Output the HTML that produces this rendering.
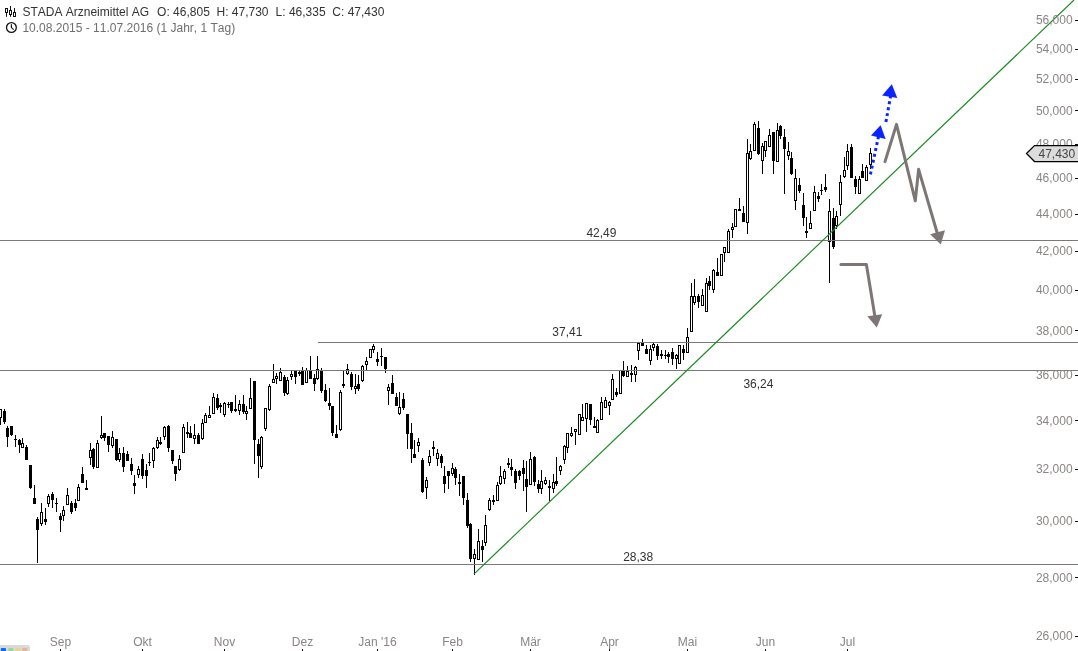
<!DOCTYPE html>
<html lang="de"><head><meta charset="utf-8"><title>STADA Arzneimittel AG</title>
<style>
html,body{margin:0;padding:0;background:#fff;}
body{width:1078px;height:651px;overflow:hidden;position:relative;font-family:"Liberation Sans",Arial,sans-serif;}
svg{position:absolute;left:0;top:0;}
text{font-family:"Liberation Sans",Arial,sans-serif;font-size:12px;font-kerning:none;font-feature-settings:"kern" 0;}
.ax{fill:#8a8583;}
.lb{fill:#333;}
.t1{fill:#333;}
.t2{fill:#6e6e6e;}
</style></head><body>
<svg width="1078" height="651" viewBox="0 0 1078 651">
<rect width="1078" height="651" fill="#fff"/>
<g shape-rendering="crispEdges"><path d="M0 409h1v16h-1zM-1 409h3v9h-3zM4 409h1v15h-1zM3 411h3v11h-3zM7 426h1v21h-1zM6 428h3v9h-3zM11 426h1v10h-1zM10 426h3v9h-3zM15 435h1v12h-1zM14 439h3v1h-3zM19 439h1v14h-1zM18 440h3v5h-3zM22 438h1v10h-1zM21 443h3v5h-3zM26 445h1v15h-1zM25 447h3v13h-3zM30 465h1v24h-1zM29 465h3v23h-3zM34 485h1v19h-1zM33 498h3v6h-3zM37 517h1v46h-1zM36 519h3v11h-3zM41 503h1v23h-1zM40 512h3v12h-3zM45 508h1v17h-1zM44 519h3v3h-3zM48 494h1v13h-1zM47 496h3v8h-3zM52 492h1v16h-1zM51 494h3v6h-3zM56 498h1v14h-1zM55 503h3v1h-3zM60 513h1v19h-1zM59 516h3v4h-3zM63 506h1v15h-1zM62 510h3v6h-3zM67 488h1v17h-1zM66 495h3v10h-3zM71 501h1v13h-1zM70 503h3v9h-3zM75 499h1v12h-1zM74 503h3v5h-3zM78 484h1v17h-1zM77 487h3v14h-3zM82 467h1v16h-1zM81 474h3v9h-3zM86 480h1v10h-1zM85 488h3v2h-3zM90 443h1v22h-1zM89 450h3v8h-3zM93 448h1v21h-1zM92 449h3v18h-3zM97 440h1v28h-1zM96 443h3v25h-3zM101 416h1v23h-1zM100 435h3v3h-3zM104 433h1v8h-1zM103 433h3v5h-3zM108 436h1v16h-1zM107 436h3v9h-3zM112 431h1v17h-1zM111 437h3v9h-3zM116 439h1v22h-1zM115 439h3v21h-3zM119 448h1v14h-1zM118 453h3v7h-3zM123 447h1v25h-1zM122 453h3v14h-3zM127 451h1v10h-1zM126 454h3v7h-3zM131 458h1v17h-1zM130 464h3v7h-3zM134 475h1v19h-1zM133 483h3v3h-3zM138 466h1v12h-1zM137 469h3v6h-3zM142 454h1v25h-1zM141 459h3v17h-3zM146 464h1v24h-1zM145 470h3v6h-3zM149 453h1v13h-1zM148 462h3v1h-3zM153 447h1v21h-1zM152 448h3v13h-3zM157 437h1v12h-1zM156 440h3v8h-3zM160 437h1v8h-1zM159 442h3v2h-3zM164 426h1v14h-1zM163 427h3v10h-3zM168 425h1v27h-1zM167 426h3v22h-3zM172 450h1v14h-1zM171 450h3v11h-3zM175 466h1v15h-1zM174 466h3v8h-3zM179 455h1v16h-1zM178 459h3v11h-3zM183 424h1v29h-1zM182 427h3v26h-3zM187 422h1v16h-1zM186 432h3v2h-3zM190 426h1v12h-1zM189 433h3v5h-3zM194 424h1v20h-1zM193 435h3v4h-3zM198 433h1v11h-1zM197 435h3v9h-3zM202 419h1v21h-1zM201 423h3v16h-3zM205 413h1v10h-1zM204 415h3v8h-3zM209 406h1v12h-1zM208 415h3v3h-3zM213 393h1v21h-1zM212 397h3v17h-3zM217 394h1v16h-1zM216 398h3v10h-3zM220 403h1v10h-1zM219 405h3v2h-3zM224 402h1v15h-1zM223 403h3v12h-3zM228 402h1v6h-1zM227 404h3v1h-3zM231 402h1v11h-1zM230 402h3v9h-3zM235 395h1v17h-1zM234 409h3v2h-3zM239 400h1v15h-1zM238 404h3v7h-3zM243 395h1v19h-1zM242 404h3v8h-3zM246 406h1v14h-1zM245 411h3v3h-3zM250 378h1v31h-1zM249 398h3v11h-3zM254 381h1v83h-1zM253 381h3v59h-3zM258 439h1v39h-1zM257 444h3v12h-3zM261 436h1v33h-1zM260 437h3v30h-3zM265 408h1v23h-1zM264 408h3v21h-3zM269 384h1v27h-1zM268 386h3v24h-3zM273 364h1v19h-1zM272 379h3v4h-3zM276 373h1v11h-1zM275 376h3v3h-3zM280 368h1v13h-1zM279 372h3v9h-3zM284 375h1v21h-1zM283 377h3v16h-3zM287 377h1v18h-1zM286 380h3v14h-3zM291 371h1v9h-1zM290 374h3v3h-3zM295 370h1v14h-1zM294 371h3v6h-3zM299 371h1v5h-1zM298 372h3v2h-3zM302 367h1v18h-1zM301 371h3v14h-3zM306 368h1v15h-1zM305 370h3v13h-3zM310 356h1v23h-1zM309 370h3v9h-3zM314 374h1v17h-1zM313 378h3v6h-3zM317 356h1v24h-1zM316 369h3v10h-3zM321 368h1v25h-1zM320 370h3v21h-3zM325 384h1v18h-1zM324 390h3v11h-3zM329 388h1v22h-1zM328 403h3v3h-3zM332 406h1v30h-1zM331 406h3v27h-3zM336 425h1v13h-1zM335 434h3v4h-3zM340 390h1v41h-1zM339 392h3v38h-3zM343 371h1v17h-1zM342 384h3v2h-3zM347 364h1v11h-1zM346 369h3v5h-3zM351 372h1v18h-1zM350 374h3v13h-3zM355 374h1v20h-1zM354 386h3v3h-3zM358 375h1v16h-1zM357 384h3v5h-3zM362 365h1v17h-1zM361 366h3v15h-3zM366 357h1v13h-1zM365 361h3v4h-3zM370 349h1v9h-1zM369 349h3v9h-3zM373 344h1v9h-1zM372 346h3v4h-3zM377 352h1v14h-1zM376 359h3v3h-3zM381 348h1v18h-1zM380 356h3v1h-3zM385 357h1v16h-1zM384 357h3v12h-3zM388 384h1v21h-1zM387 387h3v4h-3zM392 375h1v19h-1zM391 383h3v11h-3zM396 393h1v13h-1zM395 397h3v9h-3zM399 392h1v23h-1zM398 407h3v7h-3zM403 393h1v17h-1zM402 399h3v9h-3zM407 414h1v35h-1zM406 414h3v20h-3zM411 423h1v40h-1zM410 433h3v16h-3zM414 440h1v18h-1zM413 454h3v4h-3zM418 438h1v14h-1zM417 442h3v4h-3zM422 458h1v35h-1zM421 460h3v32h-3zM426 477h1v22h-1zM425 480h3v8h-3zM429 450h1v16h-1zM428 456h3v7h-3zM433 441h1v15h-1zM432 447h3v2h-3zM437 449h1v17h-1zM436 453h3v6h-3zM441 454h1v14h-1zM440 456h3v7h-3zM444 466h1v27h-1zM443 476h3v8h-3zM448 471h1v18h-1zM447 471h3v5h-3zM452 463h1v13h-1zM451 468h3v6h-3zM455 467h1v18h-1zM454 469h3v9h-3zM459 474h1v22h-1zM458 482h3v2h-3zM463 476h1v29h-1zM462 476h3v22h-3zM467 493h1v35h-1zM466 500h3v26h-3zM470 523h1v39h-1zM469 524h3v35h-3zM474 549h1v26h-1zM473 554h3v5h-3zM478 529h1v31h-1zM477 541h3v19h-3zM482 540h1v22h-1zM481 546h3v4h-3zM485 515h1v31h-1zM484 525h3v18h-3zM489 498h1v13h-1zM488 500h3v10h-3zM493 495h1v10h-1zM492 500h3v2h-3zM497 482h1v19h-1zM496 485h3v16h-3zM500 466h1v19h-1zM499 476h3v8h-3zM504 469h1v15h-1zM503 471h3v8h-3zM508 458h1v10h-1zM507 463h3v2h-3zM511 459h1v17h-1zM510 467h3v3h-3zM515 469h1v20h-1zM514 471h3v12h-3zM519 470h1v10h-1zM518 471h3v5h-3zM523 460h1v31h-1zM522 468h3v6h-3zM526 461h1v51h-1zM525 479h3v8h-3zM530 452h1v33h-1zM529 459h3v26h-3zM534 456h1v30h-1zM533 457h3v25h-3zM538 480h1v13h-1zM537 484h3v5h-3zM541 470h1v24h-1zM540 481h3v8h-3zM545 477h1v8h-1zM544 480h3v4h-3zM549 480h1v21h-1zM548 486h3v2h-3zM553 474h1v19h-1zM552 482h3v7h-3zM556 457h1v29h-1zM555 481h3v3h-3zM560 465h1v10h-1zM559 466h3v5h-3zM564 445h1v19h-1zM563 446h3v14h-3zM567 433h1v20h-1zM566 433h3v15h-3zM571 427h1v10h-1zM570 433h3v3h-3zM575 429h1v16h-1zM574 429h3v3h-3zM579 414h1v21h-1zM578 414h3v21h-3zM582 404h1v17h-1zM581 417h3v4h-3zM586 403h1v29h-1zM585 403h3v16h-3zM590 404h1v21h-1zM589 404h3v16h-3zM594 417h1v11h-1zM593 426h3v2h-3zM597 419h1v14h-1zM596 420h3v13h-3zM601 397h1v23h-1zM600 402h3v18h-3zM605 397h1v11h-1zM604 400h3v8h-3zM609 401h1v14h-1zM608 402h3v4h-3zM612 374h1v26h-1zM611 379h3v21h-3zM616 388h1v9h-1zM615 392h3v3h-3zM620 370h1v24h-1zM619 370h3v24h-3zM623 361h1v16h-1zM622 371h3v5h-3zM627 366h1v11h-1zM626 371h3v6h-3zM631 365h1v17h-1zM630 373h3v2h-3zM635 366h1v16h-1zM634 367h3v8h-3zM638 342h1v18h-1zM637 343h3v8h-3zM642 339h1v7h-1zM641 342h3v4h-3zM646 345h1v9h-1zM645 349h3v5h-3zM650 345h1v20h-1zM649 349h3v12h-3zM653 343h1v8h-1zM652 344h3v4h-3zM657 344h1v16h-1zM656 346h3v10h-3zM661 350h1v9h-1zM660 354h3v2h-3zM665 350h1v9h-1zM664 355h3v1h-3zM668 352h1v11h-1zM667 354h3v3h-3zM672 348h1v17h-1zM671 352h3v7h-3zM676 354h1v15h-1zM675 355h3v4h-3zM679 345h1v19h-1zM678 345h3v19h-3zM683 345h1v15h-1zM682 349h3v4h-3zM687 328h1v25h-1zM686 337h3v16h-3zM691 283h1v49h-1zM690 296h3v36h-3zM694 279h1v26h-1zM693 296h3v7h-3zM698 294h1v14h-1zM697 296h3v6h-3zM702 289h1v17h-1zM701 295h3v11h-3zM706 278h1v34h-1zM705 283h3v29h-3zM709 276h1v14h-1zM708 281h3v5h-3zM713 269h1v24h-1zM712 270h3v20h-3zM717 258h1v18h-1zM716 272h3v4h-3zM721 254h1v22h-1zM720 254h3v22h-3zM724 247h1v15h-1zM723 247h3v6h-3zM728 229h1v24h-1zM727 231h3v22h-3zM732 223h1v15h-1zM731 227h3v3h-3zM735 209h1v18h-1zM734 209h3v18h-3zM739 198h1v13h-1zM738 209h3v2h-3zM743 206h1v16h-1zM742 213h3v9h-3zM747 139h1v95h-1zM746 153h3v70h-3zM750 144h1v16h-1zM749 151h3v8h-3zM754 122h1v29h-1zM753 124h3v27h-3zM758 121h1v34h-1zM757 128h3v26h-3zM762 143h1v31h-1zM761 146h3v15h-3zM765 141h1v16h-1zM764 141h3v10h-3zM769 129h1v18h-1zM768 135h3v12h-3zM773 132h1v42h-1zM772 132h3v29h-3zM777 123h1v39h-1zM776 130h3v32h-3zM780 125h1v14h-1zM779 126h3v10h-3zM784 129h1v65h-1zM783 137h3v12h-3zM788 142h1v18h-1zM787 151h3v5h-3zM791 152h1v23h-1zM790 158h3v16h-3zM795 169h1v41h-1zM794 178h3v23h-3zM799 178h1v15h-1zM798 185h3v6h-3zM803 193h1v33h-1zM802 205h3v13h-3zM806 217h1v21h-1zM805 231h3v2h-3zM810 211h1v18h-1zM809 223h3v6h-3zM814 186h1v25h-1zM813 192h3v19h-3zM818 192h1v10h-1zM817 196h3v3h-3zM821 184h1v11h-1zM820 190h3v1h-3zM825 174h1v18h-1zM824 187h3v3h-3zM829 199h1v84h-1zM828 211h3v31h-3zM833 208h1v41h-1zM832 218h3v29h-3zM836 211h1v18h-1zM835 216h3v10h-3zM840 175h1v41h-1zM839 182h3v23h-3zM844 157h1v21h-1zM843 170h3v7h-3zM847 144h1v26h-1zM846 151h3v15h-3zM851 144h1v34h-1zM850 147h3v31h-3zM855 176h1v18h-1zM854 179h3v8h-3zM859 176h1v18h-1zM858 179h3v15h-3zM862 164h1v14h-1zM861 171h3v7h-3zM866 165h1v16h-1zM865 167h3v14h-3zM870 148h1v21h-1zM869 153h3v12h-3z" fill="#000"/><path d="M0 410h1v7h-1zM22 444h1v3h-1zM41 513h1v10h-1zM48 497h1v6h-1zM63 511h1v4h-1zM67 496h1v8h-1zM78 488h1v12h-1zM90 451h1v6h-1zM97 444h1v23h-1zM101 436h1v1h-1zM112 438h1v7h-1zM119 454h1v5h-1zM138 470h1v4h-1zM153 449h1v11h-1zM157 441h1v6h-1zM164 428h1v8h-1zM179 460h1v9h-1zM183 428h1v24h-1zM194 436h1v2h-1zM202 424h1v14h-1zM205 416h1v6h-1zM209 416h1v1h-1zM213 398h1v15h-1zM224 404h1v10h-1zM239 405h1v5h-1zM246 412h1v1h-1zM250 399h1v9h-1zM261 438h1v28h-1zM265 409h1v19h-1zM269 387h1v22h-1zM273 380h1v2h-1zM276 377h1v1h-1zM280 373h1v7h-1zM287 381h1v12h-1zM291 375h1v1h-1zM306 371h1v11h-1zM317 370h1v8h-1zM340 393h1v36h-1zM347 370h1v3h-1zM355 387h1v1h-1zM362 367h1v13h-1zM366 362h1v2h-1zM370 350h1v7h-1zM373 347h1v2h-1zM388 388h1v2h-1zM399 408h1v5h-1zM418 443h1v2h-1zM426 481h1v6h-1zM429 457h1v5h-1zM437 454h1v4h-1zM452 469h1v4h-1zM474 555h1v3h-1zM478 542h1v17h-1zM485 526h1v16h-1zM489 501h1v8h-1zM497 486h1v14h-1zM500 477h1v6h-1zM504 472h1v6h-1zM530 460h1v24h-1zM541 482h1v6h-1zM545 481h1v2h-1zM553 483h1v5h-1zM560 467h1v3h-1zM564 447h1v12h-1zM567 434h1v13h-1zM571 434h1v1h-1zM575 430h1v1h-1zM579 415h1v19h-1zM582 418h1v2h-1zM586 404h1v14h-1zM597 421h1v11h-1zM601 403h1v16h-1zM605 401h1v6h-1zM609 403h1v2h-1zM612 380h1v19h-1zM620 371h1v22h-1zM627 372h1v4h-1zM635 368h1v6h-1zM638 344h1v6h-1zM650 350h1v10h-1zM653 345h1v2h-1zM676 356h1v2h-1zM679 346h1v17h-1zM687 338h1v14h-1zM691 297h1v34h-1zM694 297h1v5h-1zM702 296h1v9h-1zM706 284h1v27h-1zM713 271h1v18h-1zM721 255h1v20h-1zM724 248h1v4h-1zM728 232h1v20h-1zM732 228h1v1h-1zM735 210h1v16h-1zM747 154h1v68h-1zM750 152h1v6h-1zM754 125h1v25h-1zM762 147h1v13h-1zM765 142h1v8h-1zM769 136h1v10h-1zM777 131h1v30h-1zM788 152h1v3h-1zM795 179h1v21h-1zM810 224h1v4h-1zM814 193h1v17h-1zM829 212h1v29h-1zM836 217h1v8h-1zM840 183h1v21h-1zM844 171h1v5h-1zM847 152h1v13h-1zM859 180h1v13h-1zM866 168h1v12h-1zM870 154h1v10h-1z" fill="#fff"/></g>
<g shape-rendering="crispEdges">
<rect x="0" y="240" width="1078" height="1" fill="#7d7878"/>
<rect x="318" y="342" width="760" height="1" fill="#7d7878"/>
<rect x="0" y="370" width="1078" height="1" fill="#7d7878"/>
<rect x="0" y="564" width="1078" height="1" fill="#7d7878"/>
</g>
<line x1="473.9" y1="574.2" x2="1074" y2="0" stroke="#188a1e" stroke-width="1.15"/>
<g><text x="1072.6" y="23.9" text-anchor="end" class="ax">56,000</text><rect x="1075" y="20" width="3" height="1" fill="#111"/><text x="1072.6" y="53.3" text-anchor="end" class="ax">54,000</text><rect x="1075" y="49" width="3" height="1" fill="#111"/><text x="1072.6" y="83.0" text-anchor="end" class="ax">52,000</text><rect x="1075" y="79" width="3" height="1" fill="#111"/><text x="1072.6" y="114.8" text-anchor="end" class="ax">50,000</text><rect x="1075" y="110" width="3" height="1" fill="#111"/><text x="1072.6" y="148.1" text-anchor="end" class="ax">48,000</text><rect x="1075" y="144" width="3" height="1" fill="#111"/><text x="1072.6" y="181.8" text-anchor="end" class="ax">46,000</text><rect x="1075" y="178" width="3" height="1" fill="#111"/><text x="1072.6" y="218.1" text-anchor="end" class="ax">44,000</text><rect x="1075" y="214" width="3" height="1" fill="#111"/><text x="1072.6" y="255.3" text-anchor="end" class="ax">42,000</text><rect x="1075" y="251" width="3" height="1" fill="#111"/><text x="1072.6" y="293.8" text-anchor="end" class="ax">40,000</text><rect x="1075" y="290" width="3" height="1" fill="#111"/><text x="1072.6" y="334.7" text-anchor="end" class="ax">38,000</text><rect x="1075" y="330" width="3" height="1" fill="#111"/><text x="1072.6" y="379.0" text-anchor="end" class="ax">36,000</text><rect x="1075" y="375" width="3" height="1" fill="#111"/><text x="1072.6" y="424.8" text-anchor="end" class="ax">34,000</text><rect x="1075" y="420" width="3" height="1" fill="#111"/><text x="1072.6" y="473.0" text-anchor="end" class="ax">32,000</text><rect x="1075" y="469" width="3" height="1" fill="#111"/><text x="1072.6" y="525.1" text-anchor="end" class="ax">30,000</text><rect x="1075" y="521" width="3" height="1" fill="#111"/><text x="1072.6" y="581.5" text-anchor="end" class="ax">28,000</text><rect x="1075" y="577" width="3" height="1" fill="#111"/><text x="1072.6" y="639.8" text-anchor="end" class="ax">26,000</text><rect x="1075" y="636" width="3" height="1" fill="#111"/><text x="60.5" y="645.6" text-anchor="middle" class="ax">Sep</text><rect x="60" y="649" width="1" height="2" fill="#111"/><text x="142.5" y="645.6" text-anchor="middle" class="ax">Okt</text><rect x="142" y="649" width="1" height="2" fill="#111"/><text x="224.5" y="645.6" text-anchor="middle" class="ax">Nov</text><rect x="224" y="649" width="1" height="2" fill="#111"/><text x="302.5" y="645.6" text-anchor="middle" class="ax">Dez</text><rect x="302" y="649" width="1" height="2" fill="#111"/><text x="377.5" y="645.6" text-anchor="middle" class="ax">Jan '16</text><rect x="377" y="649" width="1" height="2" fill="#111"/><text x="452.5" y="645.6" text-anchor="middle" class="ax">Feb</text><rect x="452" y="649" width="1" height="2" fill="#111"/><text x="530.5" y="645.6" text-anchor="middle" class="ax">Mär</text><rect x="530" y="649" width="1" height="2" fill="#111"/><text x="609.5" y="645.6" text-anchor="middle" class="ax">Apr</text><rect x="609" y="649" width="1" height="2" fill="#111"/><text x="687.5" y="645.6" text-anchor="middle" class="ax">Mai</text><rect x="687" y="649" width="1" height="2" fill="#111"/><text x="765.5" y="645.6" text-anchor="middle" class="ax">Jun</text><rect x="765" y="649" width="1" height="2" fill="#111"/><text x="847.5" y="645.6" text-anchor="middle" class="ax">Jul</text><rect x="847" y="649" width="1" height="2" fill="#111"/></g>
<!-- price labels -->
<text x="586.4" y="236.7" class="lb">42,49</text>
<text x="552.3" y="335.8" class="lb">37,41</text>
<text x="743.4" y="387.7" class="lb">36,24</text>
<text x="623.2" y="560.9" class="lb">28,38</text>
<!-- current price tag -->
<path d="M1026.5 153.5L1034.5 145.5H1079V161.5H1034.5Z" fill="#dcdcdc" stroke="#000" stroke-width="1.25"/>
<text x="1038.5" y="157.7" fill="#444">47,430</text>
<!-- grey arrows -->
<g fill="none" stroke="#7c7674" stroke-width="3" stroke-linejoin="round" stroke-linecap="round">
<path d="M885 161.6L896.5 124.4L915.3 200.8L918.6 169.3L937.5 234"/>
<path d="M840.9 264.6H866.4L875 317"/>
</g>
<path d="M940.8 244.6L930.1 234.2L945 230.2Z" fill="#7c7674"/>
<path d="M876.8 327.6L867.3 316.3L882.2 314.2Z" fill="#7c7674"/>
<!-- blue arrows -->
<g fill="none" stroke="#0a24ff" stroke-width="3" stroke-dasharray="3 3">
<path d="M870.4 174.4L878.6 136"/>
<path d="M885.9 122L890.8 95"/>
</g>
<path d="M880.6 125.3L871 135.6L885.6 139Z" fill="#0a24ff"/>
<path d="M891.8 84.3L882.1 95.4L897.3 97.9Z" fill="#0a24ff"/>
<!-- header icons -->
<g fill="none" stroke="#111" stroke-width="1">
<rect x="5.5" y="8.5" width="2" height="4"/><path d="M6.5 12.5V16.8"/>
<rect x="9.5" y="10.5" width="2" height="4"/><path d="M10.5 6V10.5M10.5 14.5V16.8"/>
<rect x="13.5" y="12.5" width="2" height="4"/><path d="M14.5 8V12.5"/>
<circle cx="11.4" cy="27.5" r="4.9" stroke-width="1.3"/>
<path d="M11.4 24.3V27.6L13.7 29.6" stroke-width="1.2"/>
</g>
<text x="22.4" y="16.1" class="t1">STADA Arzneimittel AG</text>
<text x="157.1" y="16.1" class="t1">O: 46,805</text>
<text x="216.5" y="16.1" class="t1">H: 47,730</text>
<text x="275.6" y="16.1" class="t1">L: 46,335</text>
<text x="332.3" y="16.1" class="t1">C: 47,430</text>
<text x="22.4" y="31.8" class="t2">10.08.2015 - 11.07.2016 (1 Jahr, 1 Tag)</text>
<!-- bottom-left widget -->
<rect x="-4" y="645" width="34" height="12" rx="3" fill="#d9d9d9"/>
<rect x="0.8" y="648" width="5.2" height="5" rx="1" fill="#0a6cf0"/>
<rect x="8.3" y="648" width="5" height="5" rx="1" fill="#9bd49b"/>
<rect x="15.5" y="648" width="5" height="5" rx="1" fill="#e6d58a"/>
<rect x="22.3" y="648" width="5" height="5" rx="1" fill="#eab196"/>
</svg>
</body></html>
